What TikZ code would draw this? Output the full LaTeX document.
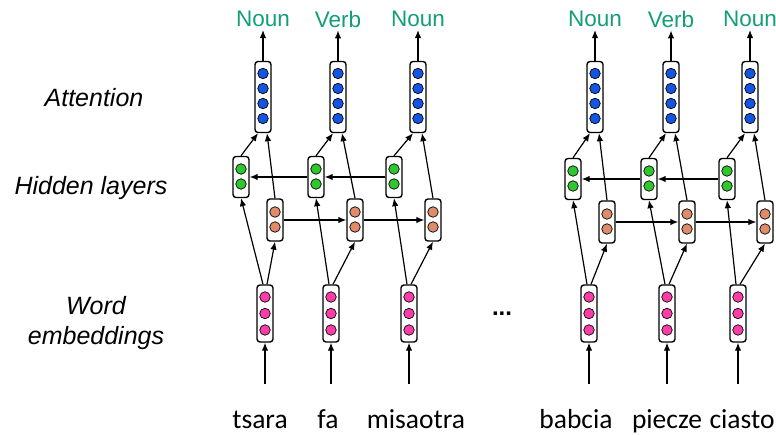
\documentclass[tikz,border=0pt]{standalone}
\usepackage{fontspec}
\setmainfont{Liberation Sans}
\newfontfamily\wordfont{Carlito}
\usetikzlibrary{arrows.meta}
\definecolor{tagc}{RGB}{18,158,118}
\definecolor{attc}{RGB}{20,85,225}
\definecolor{grnc}{RGB}{45,200,45}
\definecolor{orgc}{RGB}{222,140,105}
\definecolor{pnkc}{RGB}{255,60,170}
\begin{document}
\begin{tikzpicture}[x=1pt,y=-1pt,
  cell/.style={draw=black, line width=1.4pt, rounded corners=3pt, fill=white, minimum width=16pt, inner sep=0pt},
  dot/.style={circle, draw=black, line width=0.7pt, minimum size=10.5pt, inner sep=0pt},
  arr/.style={-{Latex[length=8pt,width=6.5pt]}, line width=1.2pt},
  tag/.style={text=tagc, font=\fontsize{22.5}{26}\selectfont, inner sep=3pt},
  side/.style={font=\fontsize{25}{30}\selectfont\itshape, align=center, inner sep=0pt},
  word/.style={font=\wordfont\fontsize{27.5}{30}\selectfont, anchor=base, inner sep=0pt}]
\useasboundingbox (0,0) rectangle (776,435);

% side labels
\node[side] (lab1) at (94,98) {Attention};
\node[side] (lab2) at (91,188) {Hidden layers};
\node[side] (lab3) at (96,323) {Word\\embeddings};

% columns
\foreach \i/\ax/\gx/\ox/\ex/\dy/\tg in {1/263/241/275/265/0/Noun, 2/338/316/355/331/0/Verb, 3/418/394/433/409/0/Noun, 4/595/573/607/589/2/Noun, 5/671/649/687/667/2/Verb, 6/750/727/765/738/2/Noun}{
  % attention
  \node[cell, minimum height=71pt] (a\i) at (\ax,97) {};
  \foreach \k/\cy in {1/73.5,2/88.5,3/103.5,4/118.5}
    \node[dot, fill=attc] (a\i c\k) at (\ax,\cy) {};
  \node[tag] (t\i) at (\ax,19) {\tg};
  \draw[arr] (a\i.north) -- (t\i.south);
  % green hidden
  \node[cell, minimum height=41pt] (g\i) at (\gx,177+\dy) {};
  \node[dot, fill=grnc] (g\i c1) at (\gx,169+\dy) {};
  \node[dot, fill=grnc] (g\i c2) at (\gx,184+\dy) {};
  % orange hidden
  \node[cell, minimum height=42pt] (o\i) at (\ox,220+\dy) {};
  \node[dot, fill=orgc] (o\i c1) at (\ox,212+\dy) {};
  \node[dot, fill=orgc] (o\i c2) at (\ox,227+\dy) {};
  % embedding
  \node[cell, minimum height=57pt] (e\i) at (\ex,313.5) {};
  \node[dot, fill=pnkc] (e\i c1) at (\ex,297) {};
  \node[dot, fill=pnkc] (e\i c2) at (\ex,313.5) {};
  \node[dot, fill=pnkc] (e\i c3) at (\ex,330) {};
  % connectors
  \coordinate (in\i) at (\ex,384);
  \draw[arr] (in\i) -- (e\i.south);
  \draw[arr] ([xshift=-2pt]e\i.north) -- (g\i.south);
  \draw[arr] ([xshift=2pt]e\i.north) -- (o\i.south);
  \draw[arr] (g\i.north) -- ([xshift=-5pt]a\i.south);
  \draw[arr] (o\i.north) -- ([xshift=4pt]a\i.south);
}

% recurrent connectors
\foreach \p/\q in {1/2,2/3,4/5,5/6}{
  \draw[arr] (g\q.west) -- (g\p.east);
  \draw[arr] (o\p.east) -- (o\q.west);
}

% words
\node[word] (w1) at (260,428) {tsara};
\node[word] (w2) at (328,428) {fa};
\node[word] (w3) at (416,428) {misaotra};
\node[word] (w4) at (576,428) {babcia};
\node[word] (w5) at (667,428) {piecze};
\node[word] (w6) at (742,428) {ciasto};

\node[font=\fontsize{24}{26}\selectfont\bfseries] (dots) at (502,314) {...};
\end{tikzpicture}
\end{document}
